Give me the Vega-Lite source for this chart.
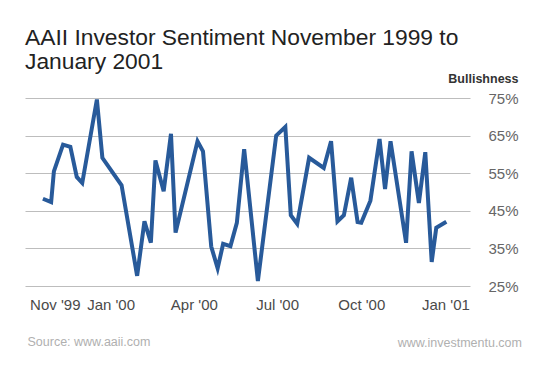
{
  "$schema": "https://vega.github.io/schema/vega-lite/v6.json",
  "background": "white",
  "padding": {"left": 25, "top": 27, "right": 5, "bottom": 5},
  "title": {
    "text": ["AAII Investor Sentiment November 1999 to", "January 2001"],
    "anchor": "start",
    "frame": "group",
    "font": "Liberation Sans",
    "fontSize": 22.8,
    "fontWeight": "normal",
    "color": "#222222",
    "lineHeight": 24,
    "offset": -2
  },
  "config": {"view": {"stroke": null}, "font": "Liberation Sans"},
  "vconcat": [
    {
      "width": 445,
      "height": 188,
      "title": {
        "text": "www.investmentu.com",
        "orient": "bottom",
        "anchor": "end",
        "frame": "group",
        "dx": 52,
        "offset": -11,
        "baseline": "top",
        "font": "Liberation Sans",
        "fontSize": 12.5,
        "fontWeight": "normal",
        "color": "#b0b0b0"
      },
      "data": {
        "values": [
          {"date": "1999-10-19", "bullish": 48.2},
          {"date": "1999-10-28", "bullish": 47.3},
          {"date": "1999-10-31", "bullish": 55.5},
          {"date": "1999-11-10", "bullish": 62.6},
          {"date": "1999-11-18", "bullish": 62.0},
          {"date": "1999-11-25", "bullish": 54.0},
          {"date": "1999-12-01", "bullish": 52.4},
          {"date": "1999-12-17", "bullish": 74.6},
          {"date": "1999-12-23", "bullish": 59.1},
          {"date": "2000-01-13", "bullish": 51.8},
          {"date": "2000-01-30", "bullish": 27.7},
          {"date": "2000-02-07", "bullish": 42.2},
          {"date": "2000-02-14", "bullish": 36.5},
          {"date": "2000-02-19", "bullish": 58.4},
          {"date": "2000-02-28", "bullish": 50.2},
          {"date": "2000-03-07", "bullish": 65.5},
          {"date": "2000-03-12", "bullish": 39.2},
          {"date": "2000-04-05", "bullish": 63.5},
          {"date": "2000-04-11", "bullish": 60.8},
          {"date": "2000-04-20", "bullish": 35.5},
          {"date": "2000-04-27", "bullish": 29.7},
          {"date": "2000-05-03", "bullish": 36.2},
          {"date": "2000-05-11", "bullish": 35.6},
          {"date": "2000-05-18", "bullish": 41.8},
          {"date": "2000-05-26", "bullish": 61.4},
          {"date": "2000-06-10", "bullish": 26.3},
          {"date": "2000-06-30", "bullish": 65.0},
          {"date": "2000-07-10", "bullish": 67.3},
          {"date": "2000-07-16", "bullish": 43.8},
          {"date": "2000-07-23", "bullish": 41.5},
          {"date": "2000-08-05", "bullish": 59.1},
          {"date": "2000-08-21", "bullish": 56.4},
          {"date": "2000-08-29", "bullish": 63.5},
          {"date": "2000-09-05", "bullish": 42.2},
          {"date": "2000-09-12", "bullish": 43.8},
          {"date": "2000-09-20", "bullish": 53.8},
          {"date": "2000-09-27", "bullish": 42.0},
          {"date": "2000-10-01", "bullish": 41.8},
          {"date": "2000-10-11", "bullish": 47.7},
          {"date": "2000-10-21", "bullish": 64.1},
          {"date": "2000-10-27", "bullish": 50.8},
          {"date": "2000-11-02", "bullish": 63.5},
          {"date": "2000-11-19", "bullish": 36.5},
          {"date": "2000-11-25", "bullish": 60.8},
          {"date": "2000-12-03", "bullish": 47.1},
          {"date": "2000-12-10", "bullish": 60.6},
          {"date": "2000-12-17", "bullish": 31.4},
          {"date": "2000-12-22", "bullish": 40.5},
          {"date": "2001-01-02", "bullish": 42.1}
        ]
      },
      "mark": {"type": "line", "color": "#285a9a", "strokeWidth": 4, "clip": false},
      "encoding": {
        "x": {
          "field": "date",
          "type": "temporal",
          "scale": {
            "type": "utc",
            "domain": [
              {"year": 1999, "month": 9, "date": 29, "hours": 10, "utc": true},
              {"year": 2001, "month": 1, "date": 27, "hours": 21, "utc": true}
            ]
          },
          "axis": {
            "values": [
              {"year": 1999, "month": 11, "date": 1, "utc": true},
              {"year": 2000, "month": 1, "date": 1, "utc": true},
              {"year": 2000, "month": 4, "date": 1, "utc": true},
              {"year": 2000, "month": 7, "date": 1, "utc": true},
              {"year": 2000, "month": 10, "date": 1, "utc": true},
              {"year": 2001, "month": 1, "date": 1, "utc": true}
            ],
            "labelExpr": "utcFormat(datum.value, \"%b '%y\")",
            "grid": false,
            "domain": false,
            "ticks": false,
            "tickSize": 0,
            "labelAlign": "center",
            "labelBaseline": "top",
            "labelPadding": 11,
            "labelFont": "Liberation Sans",
            "labelFontSize": 15,
            "labelColor": "#4a4a4a",
            "labelOverlap": false,
            "title": "Source: www.aaii.com",
            "titleAnchor": "start",
            "titleAlign": "left",
            "titleBaseline": "top",
            "titleX": 2,
            "titleY": 49,
            "titleFont": "Liberation Sans",
            "titleFontSize": 12.5,
            "titleFontWeight": "normal",
            "titleColor": "#b0b0b0"
          }
        },
        "y": {
          "field": "bullish",
          "type": "quantitative",
          "scale": {"domain": [25, 75], "nice": false, "zero": false},
          "axis": {
            "orient": "right",
            "values": [25, 35, 45, 55, 65, 75],
            "labelExpr": "datum.value + '%'",
            "grid": true,
            "gridColor": "#bdbdbd",
            "gridWidth": 1,
            "domain": false,
            "ticks": false,
            "tickSize": 0,
            "labelAlign": "right",
            "labelBaseline": "middle",
            "labelPadding": 48,
            "labelFont": "Liberation Sans",
            "labelFontSize": 15,
            "labelColor": "#666666",
            "title": "Bullishness",
            "titleAngle": 0,
            "titleAlign": "right",
            "titleBaseline": "middle",
            "titleX": 48,
            "titleY": -20,
            "titleFont": "Liberation Sans",
            "titleFontSize": 12.5,
            "titleFontWeight": "bold",
            "titleColor": "#333333"
          }
        }
      }
    }
  ]
}
